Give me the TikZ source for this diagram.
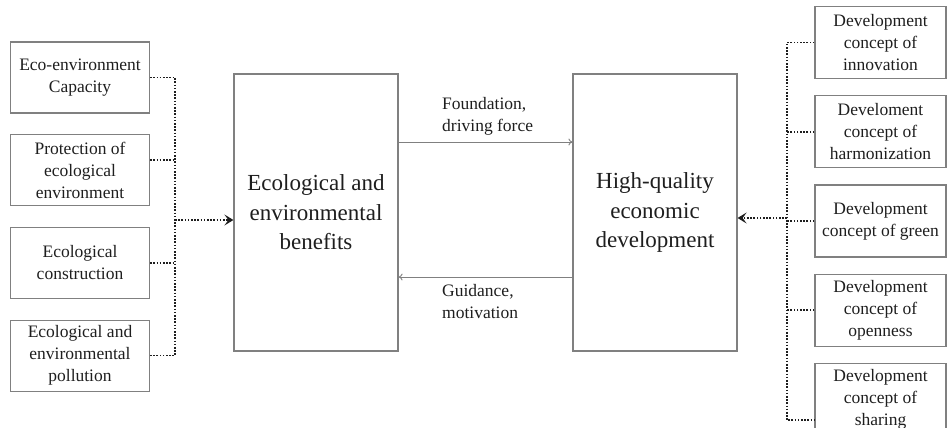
\documentclass[tikz,border=0pt]{standalone}
\usepackage{fontspec}
\setmainfont{Liberation Serif}
\usetikzlibrary{arrows.meta}
\usetikzlibrary{positioning}
\definecolor{edge}{RGB}{128,128,128}
\definecolor{ink}{RGB}{30,30,30}
\tikzset{%
  % Specifications for style of nodes:
  factor/.style = {rectangle, draw=edge, line width=1.2pt, text=ink,
    minimum width=139pt,
    minimum height=71pt,
    inner sep=1pt,
    align=center, font=\fontsize{17.5}{22}\selectfont},
  concept/.style = {factor, minimum width=131pt, minimum height=72pt},
  core/.style = {rectangle, draw=edge, line width=1.2pt, text=ink,
    minimum width=164pt,
    minimum height=277pt,
    align=center, font=\fontsize{23}{29.5}\selectfont},
  lbl/.style = {text=ink, align=left, inner sep=0pt, anchor=west,
    font=\fontsize{17.5}{22}\selectfont},
  % Specifications for style of lines:
  link/.style = {draw=edge, line width=0.9pt, -{To[length=4pt,width=7pt]}},
  dots/.style = {draw=ink, line width=1.7pt, dash pattern=on 1.6pt off 1.6pt},
  dotarrow/.style = {dots, -{Stealth[length=9pt,width=11pt,inset=4pt]}},
}

\begin{document}
\begin{tikzpicture}[x=1pt, y=-1pt]
  \useasboundingbox (0,0) rectangle (947,428);
  % Specification of nodes (position, etc.)
  \node(benefit)[core] at (316,212.5) {Ecological and\\ environmental\\ benefits};
  \node(develop)[core] at (655,212.5) {High-quality\\ economic\\ development};

  \node(capacity)[factor] at (80,77.5) {Eco-environment\\ Capacity};
  \node(protect)[factor, below=20.5pt of capacity] {Protection of\\ ecological\\ environment};
  \node(construct)[factor, below=20.5pt of protect] {Ecological\\ construction};
  \node(pollution)[factor, below=20.5pt of construct] {Ecological and\\ environmental\\ pollution};

  \node(innov)[concept] at (880.5,42.5) {Development\\ concept of\\ innovation};
  \node(harmon)[concept, below=16pt of innov] {Develoment\\ concept of\\ harmonization};
  \node(green)[concept, below=16pt of harmon] {Development\\ concept of green};
  \node(open)[concept, below=16pt of green] {Development\\ concept of\\ openness};
  \node(share)[concept, below=16pt of open] {Development\\ concept of\\ sharing};

  % dotted collectors on both sides
  \coordinate (lbus) at (175,220);
  \coordinate (rbus) at (787,218);
  \coordinate (protectout) at ([yshift=10pt]protect.east);
  \coordinate (shareout) at ([yshift=-21pt]share.west);

  \draw[dots] (capacity.east) -- (capacity.east -| lbus) -- (pollution.east -| lbus) -- (pollution.east);
  \draw[dots] (protectout) -- (protectout -| lbus);
  \draw[dots] (construct.east) -- (construct.east -| lbus);
  \draw[dotarrow] (lbus) -- (lbus -| benefit.west);

  \draw[dots] (innov.west) -- (innov.west -| rbus) -- (shareout -| rbus) -- (shareout);
  \draw[dots] (harmon.west) -- (harmon.west -| rbus);
  \draw[dots] (green.west) -- (green.west -| rbus);
  \draw[dots] (open.west) -- (open.west -| rbus);
  \draw[dotarrow] (rbus) -- (rbus -| develop.east);

  % links between the two core boxes
  \draw[link] ([yshift=70.5pt]benefit.east) -- ([yshift=70.5pt]develop.west);
  \draw[link] ([yshift=-64.5pt]develop.west) -- ([yshift=-64.5pt]benefit.east);
  \node(fwd)[lbl] at (442,116) {Foundation,\\ driving force};
  \node(back)[lbl] at (442,302) {Guidance,\\ motivation};
\end{tikzpicture}
\end{document}
